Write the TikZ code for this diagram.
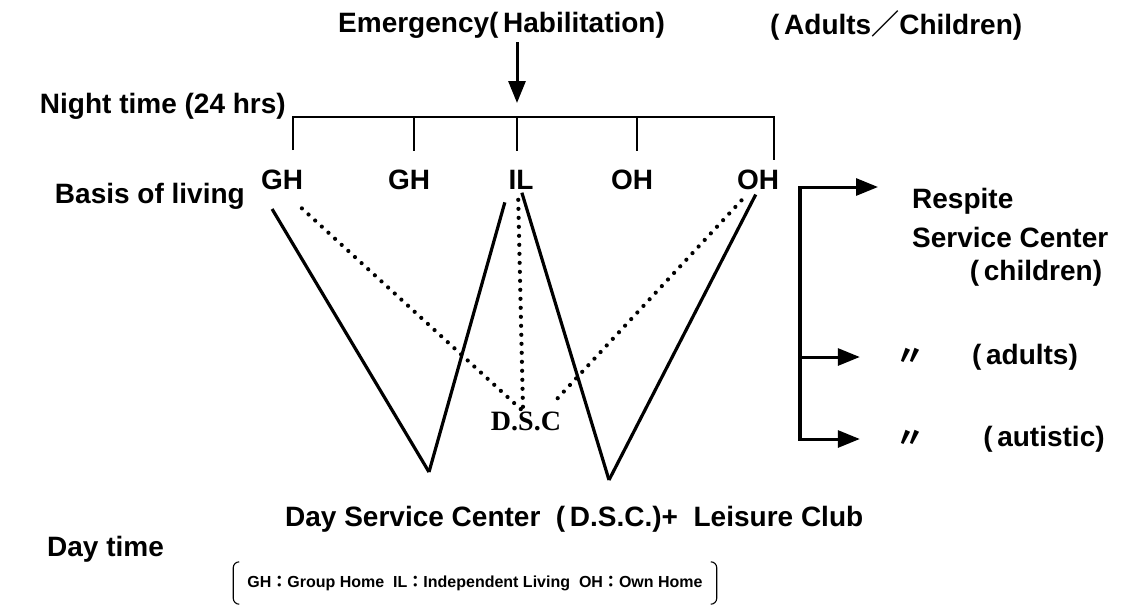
\documentclass[tikz,border=0pt]{standalone}
\usepackage{fontspec}
\setmainfont{Liberation Sans}
\newfontfamily\dscfont{Liberation Serif}
\newfontfamily\cjk{Noto Sans CJK JP}
\usetikzlibrary{arrows.meta}

\begin{document}
\begin{tikzpicture}[
  x=1pt,y=-1pt,
  lbl/.style={font=\fontsize{28}{32}\selectfont\bfseries,inner sep=0pt},
  key/.style={font=\fontsize{16}{20}\selectfont\bfseries,inner xsep=14pt,inner ysep=0pt,minimum height=42pt},
  wline/.style={line width=3.2pt},
  dots/.style={line width=4.2pt,line cap=round,dash pattern=on 0pt off 9pt},
  bar/.style={line width=1.3pt},
  arr/.style={line width=3pt,-{Triangle[length=22pt,width=17pt]}},
  brk/.style={line width=1.1pt}
]
\useasboundingbox (0,0) rectangle (1140,614);

% top labels
\node[lbl,anchor=west] (emg) at (338,25) {Emergency(\,Habilitation)};
\node[lbl,anchor=west] (grp) at (770,25) {(\,Adults{\cjk ／}Children)};
\node[lbl,anchor=base east] (night) at (286,113) {Night time (24 hrs)};

% night-time bar
\coordinate (t1) at (293,117);
\coordinate (t2) at (414,117);
\coordinate (t3) at (517,117);
\coordinate (t4) at (637,117);
\coordinate (t5) at (774,117);
\draw[bar] ([yshift=-33pt]t1) -- (t1) -- (t5) -- ([yshift=-43pt]t5);
\foreach \t in {t2,t3,t4}
  \draw[bar] (\t) -- ([yshift=-34pt]\t);
\draw[arr,shorten <=4pt,shorten >=14pt] (emg.south -| t3) -- (t3);

% basis of living
\node[lbl,anchor=base east] (basis) at (245,203) {Basis of living};
\node[lbl] (gh1) at (282,180) {GH};
\node[lbl] (gh2) at (409,180) {GH};
\node[lbl] (il) at (521,180) {IL};
\node[lbl] (oh1) at (632,180) {OH};
\node[lbl] (oh2) at (758,180) {OH};

% day time
\coordinate (v1) at (429,472);
\coordinate (v2) at (609,480);
\node[inner sep=0pt,font=\dscfont\bfseries\fontsize{28}{32}\selectfont] (dsc) at (526,421) {D.S.C};
\draw[wline,shorten <=22pt] (gh1.south west) -- (v1);
\draw[wline,shorten >=13pt] (v1) -- (il.south west);
\draw[wline,shorten <=3pt] (il.south) -- (v2);
\draw[wline,shorten >=5pt] (v2) -- (oh2.south);
\draw[dots,shorten <=27pt] (gh1.south) -- ([xshift=-5pt,yshift=2pt]dsc.north);
\draw[dots,shorten <=10pt] ([xshift=-3pt]il.south) -- ([xshift=-3pt,yshift=2pt]dsc.north);
\draw[dots,shorten <=14pt] ([xshift=-7pt]oh2.south) -- ([xshift=26pt,yshift=7pt]dsc.north);

\node[lbl,anchor=base west] (day) at (285,526) {Day Service Center\ \ (\,D.S.C.)+\ \ Leisure Club};
\node[lbl,anchor=base west] (dayt) at (47,556) {Day time};

% respite branch
\node[lbl,anchor=west] (resp) at (912,201) {Respite};
\node[lbl,anchor=west] (serv) at (912,237) {Service Center};
\node[lbl] (chl) at (1036,273) {(\,children)};
\node[lbl] (dit1) at (910,357) {{\cjk 〃}};
\node[lbl] (adl) at (1025,357) {(\,adults)};
\node[lbl] (dit2) at (910,439) {{\cjk 〃}};
\node[lbl] (aut) at (1044,439) {(\,autistic)};
\coordinate (br) at (800,187);
\draw[wline] (br) -- (br |- dit2);
\draw[arr,shorten >=34pt] ([xshift=-1.6pt]br) -- (br -| resp.west);
\draw[arr,shorten >=36pt] (br |- dit1) -- (dit1.west);
\draw[arr,shorten >=36pt] ([xshift=-1.6pt]br |- dit2) -- (dit2.west);

% key
\node[key] (key) at (475,583) {GH{\cjk ：}Group Home\ \ IL{\cjk ：}Independent Living\ \ OH{\cjk ：}Own Home};
\draw[brk] ([xshift=6pt]key.north west) to[out=180,in=90] ([yshift=-6pt]key.north west)
  -- ([yshift=6pt]key.south west) to[out=-90,in=180] ([xshift=6pt]key.south west);
\draw[brk] ([xshift=-6pt]key.north east) to[out=0,in=90] ([yshift=-6pt]key.north east)
  -- ([yshift=6pt]key.south east) to[out=-90,in=0] ([xshift=-6pt]key.south east);
\end{tikzpicture}
\end{document}
